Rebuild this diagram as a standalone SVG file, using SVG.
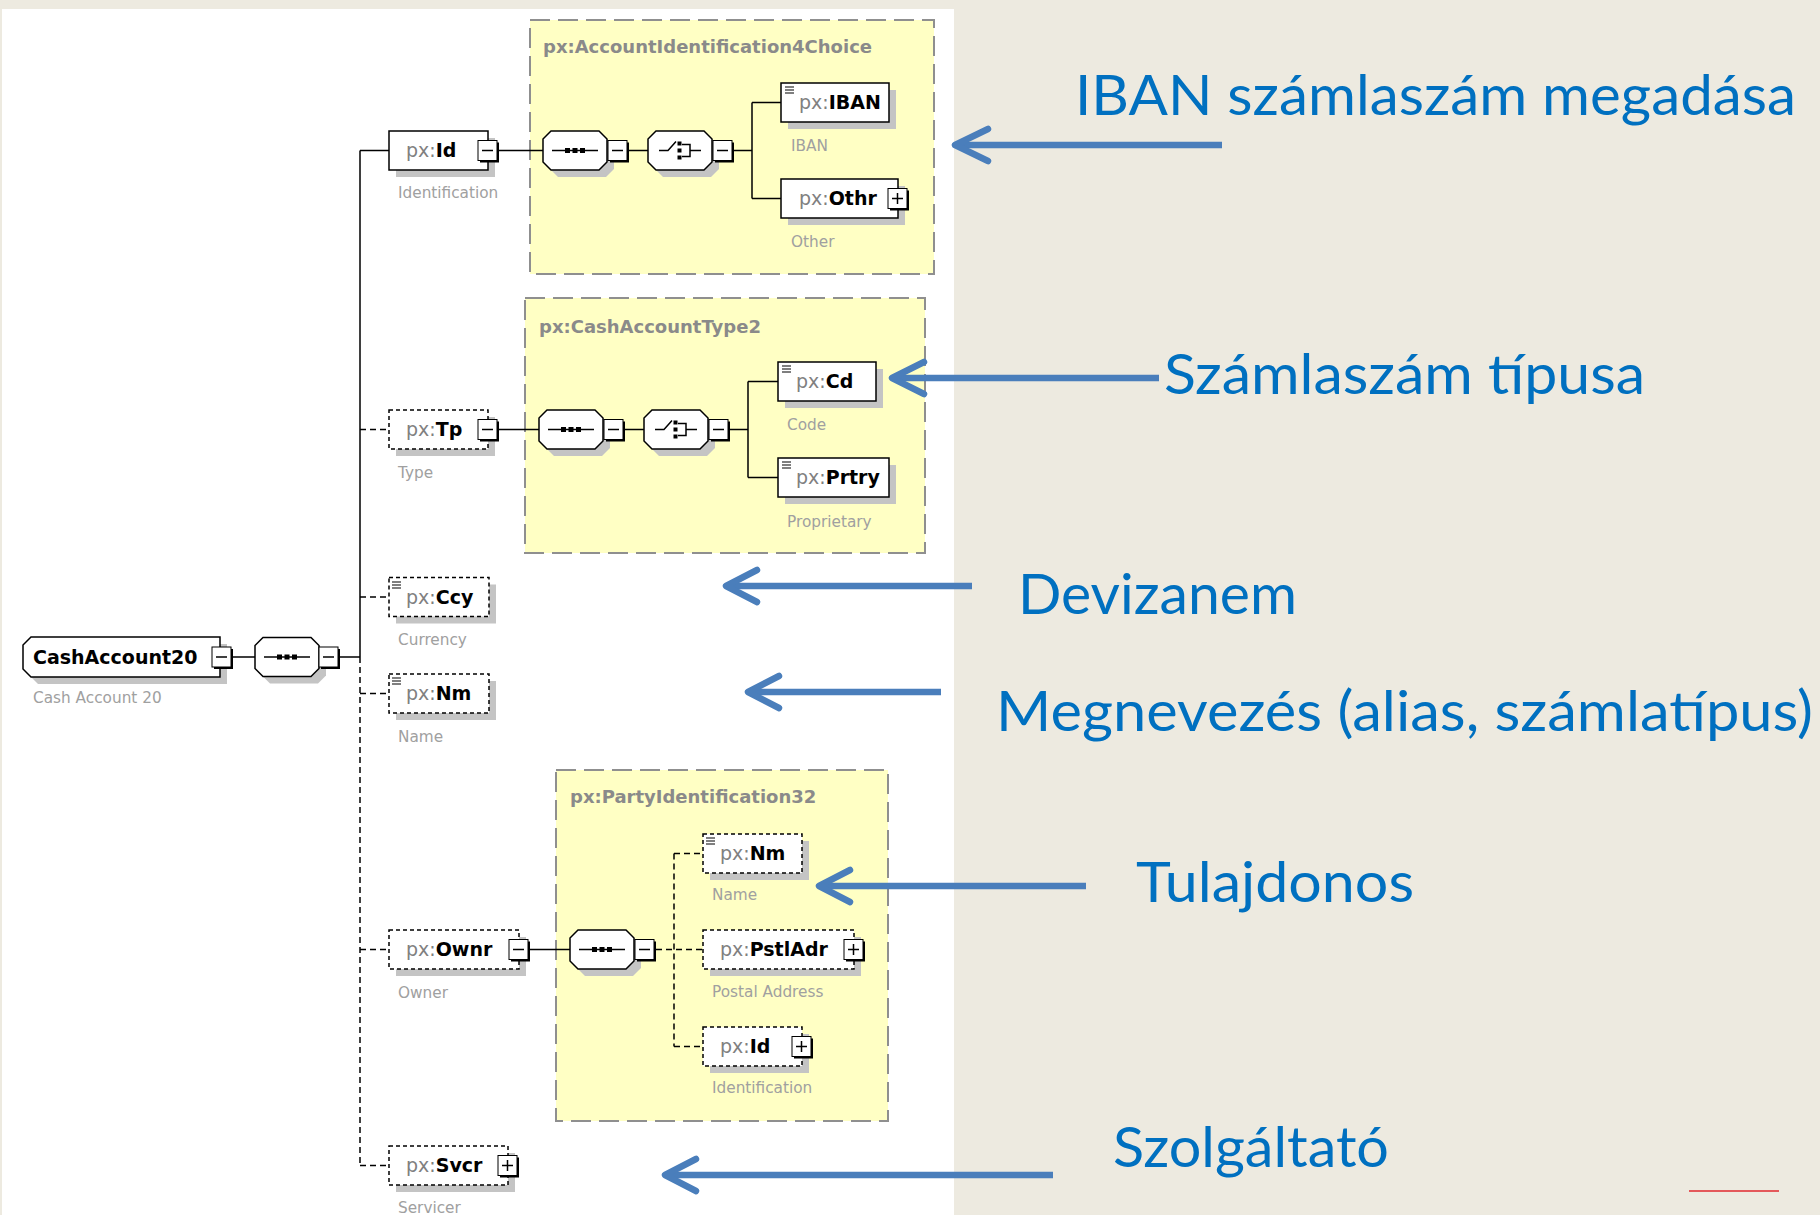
<svg xmlns="http://www.w3.org/2000/svg" xmlns:xlink="http://www.w3.org/1999/xlink" width="1820" height="1215" viewBox="0 0 1820 1215">
<defs>
<style>
.sh{fill:#C4C4C4;stroke:none}
.bx{fill:#fff;stroke:#000;stroke-width:1.5}
.ob{fill:#fff;stroke:#000;stroke-width:1.5;stroke-dasharray:4 3}
.yb{fill:#FFFFC4;stroke:#8F8F8F;stroke-width:2;stroke-dasharray:20 8}
.yt{font-family:"DejaVu Sans",sans-serif;font-weight:bold;font-size:18px;fill:#8A8A8A}
.nt{font-family:"DejaVu Sans",sans-serif;font-size:19px}
.px{fill:#808080}
.nb{font-weight:bold;fill:#000}
.lb{font-family:"DejaVu Sans",sans-serif;font-size:15.3px;fill:#A0A0A0}
.ln{fill:none;stroke:#000;stroke-width:1.5}
.dl{fill:none;stroke:#000;stroke-width:1.5;stroke-dasharray:6 4}
.ar{fill:none;stroke:#4A7EBB;stroke-width:6.5}
.ah{fill:none;stroke:#4A7EBB;stroke-width:6.5;stroke-linecap:round;stroke-linejoin:round}
.an{font-family:Lato,"Liberation Sans",sans-serif;font-size:56px;fill:#0070C0}
</style>
<path id="oct" d="M8,0H56L64,8V31L56,39H8L0,31V8Z"/>
<g id="bm"><rect x="2" y="2" width="19" height="20" fill="#000"/><rect x="0" y="0" width="19" height="20" fill="#fff" stroke="#000" stroke-width="1"/><path d="M4,10H15" stroke="#000" stroke-width="1.5"/></g>
<g id="bp"><rect x="2" y="2" width="19" height="20" fill="#000"/><rect x="0" y="0" width="19" height="20" fill="#fff" stroke="#000" stroke-width="1"/><path d="M4,10H15M9.5,4.5V15.5" stroke="#000" stroke-width="1.5"/></g>
<g id="seq"><path d="M-23,0H23" stroke="#000" stroke-width="1.5"/><rect x="-10" y="-2.5" width="5" height="5"/><rect x="-2.5" y="-2.5" width="5" height="5"/><rect x="5" y="-2.5" width="5" height="5"/></g>
<g id="cho"><path d="M-21,0H-12L-4,-9M2,-6H10V6H2M10,0H21" fill="none" stroke="#000" stroke-width="1.5"/><rect x="-2.5" y="-9" width="4" height="4"/><rect x="-2.5" y="-2" width="4" height="4"/><rect x="-2.5" y="5" width="4" height="4"/></g>
<path id="simp" d="M0,0H9M0,3H9M0,6H9" stroke="#000" stroke-width="1.2"/>
</defs>

<rect x="0" y="0" width="1820" height="1215" fill="#EDEAE0"/>
<rect x="2" y="9" width="952" height="1206" fill="#FFFFFF"/>

<!-- yellow type boxes -->
<g id="type-AccountIdentification4Choice">
<rect class="yb" x="530" y="20" width="404" height="254"/>
<text class="yt" x="543" y="53">px:AccountIdentification4Choice</text>
</g>
<g id="type-CashAccountType2">
<rect class="yb" x="525" y="298" width="400" height="255"/>
<text class="yt" x="539" y="333">px:CashAccountType2</text>
</g>
<g id="type-PartyIdentification32">
<rect class="yb" x="556" y="770" width="332" height="351"/>
<text class="yt" x="570" y="803">px:PartyIdentification32</text>
</g>

<!-- connectors -->
<g id="connectors">
<path class="ln" d="M231,657H255M340,657H360M360,150.5V657M360,150.5H389"/>
<path class="dl" d="M360,657V1165.5M360,429.5H389M360,597H389M360,693.5H389M360,949.5H389M360,1165.5H389"/>
<path class="ln" d="M497,150.5H543M629,150.5H648M734,150.5H752M752,102.5V198.5M752,102.5H781M752,198.5H781"/>
<path class="ln" d="M497,429.5H539M625,429.5H644M730,429.5H748M748,381.5V477.5M748,381.5H778M748,477.5H778"/>
<path class="ln" d="M528,949.5H570"/>
<path class="dl" d="M656,949.5H703M674,853.5V1046.5M674,853.5H703M674,1046.5H703"/>
</g>

<!-- root -->
<g id="n-CashAccount20">
<path class="sh" d="M38,644H227V684H38L30,676V652Z"/>
<path class="bx" d="M31,637H220V677H31L23,669V645Z"/>
<use xlink:href="#bm" x="212" y="647"/>
<text class="nt" x="33" y="664"><tspan class="nb">CashAccount20</tspan></text>
<text class="lb" x="33" y="703">Cash Account 20</text>
</g>
<g id="n-seq-root">
<use xlink:href="#oct" class="sh" x="262" y="644.5"/>
<use xlink:href="#oct" class="bx" x="255" y="637.5"/>
<use xlink:href="#seq" x="287" y="657"/>
<use xlink:href="#bm" x="319" y="647"/>
</g>

<!-- Id -->
<g id="n-Id">
<rect class="sh" x="396" y="138" width="99" height="39"/>
<rect class="bx" x="389" y="131" width="99" height="39"/>
<use xlink:href="#bm" x="478" y="140.5"/>
<text class="nt" x="406" y="157"><tspan class="px">px:</tspan><tspan class="nb">Id</tspan></text>
<text class="lb" x="398" y="198">Identification</text>
</g>
<g id="n-seq-Id">
<use xlink:href="#oct" class="sh" x="550" y="138"/>
<use xlink:href="#oct" class="bx" x="543" y="131"/>
<use xlink:href="#seq" x="575" y="150.5"/>
<use xlink:href="#bm" x="608" y="140.5"/>
</g>
<g id="n-choice-Id">
<use xlink:href="#oct" class="sh" x="655" y="138"/>
<use xlink:href="#oct" class="bx" x="648" y="131"/>
<use xlink:href="#cho" x="680" y="150.5"/>
<use xlink:href="#bm" x="713" y="140.5"/>
</g>
<g id="n-IBAN">
<rect class="sh" x="788" y="90" width="108" height="39"/>
<rect class="bx" x="781" y="83" width="108" height="39"/>
<use xlink:href="#simp" x="785" y="87"/>
<text class="nt" x="799" y="109"><tspan class="px">px:</tspan><tspan class="nb">IBAN</tspan></text>
<text class="lb" x="791" y="151">IBAN</text>
</g>
<g id="n-Othr">
<rect class="sh" x="788" y="186" width="117" height="39"/>
<rect class="bx" x="781" y="179" width="117" height="39"/>
<use xlink:href="#bp" x="888" y="188.5"/>
<text class="nt" x="799" y="205"><tspan class="px">px:</tspan><tspan class="nb">Othr</tspan></text>
<text class="lb" x="791" y="247">Other</text>
</g>

<!-- Tp -->
<g id="n-Tp">
<rect class="sh" x="396" y="417" width="99" height="39"/>
<rect class="ob" x="389" y="410" width="99" height="39"/>
<use xlink:href="#bm" x="478" y="419.5"/>
<text class="nt" x="406" y="436"><tspan class="px">px:</tspan><tspan class="nb">Tp</tspan></text>
<text class="lb" x="398" y="478">Type</text>
</g>
<g id="n-seq-Tp">
<use xlink:href="#oct" class="sh" x="546" y="417"/>
<use xlink:href="#oct" class="bx" x="539" y="410"/>
<use xlink:href="#seq" x="571" y="429.5"/>
<use xlink:href="#bm" x="604" y="419.5"/>
</g>
<g id="n-choice-Tp">
<use xlink:href="#oct" class="sh" x="651" y="417"/>
<use xlink:href="#oct" class="bx" x="644" y="410"/>
<use xlink:href="#cho" x="676" y="429.5"/>
<use xlink:href="#bm" x="709" y="419.5"/>
</g>
<g id="n-Cd">
<rect class="sh" x="785" y="369" width="98" height="39"/>
<rect class="bx" x="778" y="362" width="98" height="39"/>
<use xlink:href="#simp" x="782" y="366"/>
<text class="nt" x="796" y="388"><tspan class="px">px:</tspan><tspan class="nb">Cd</tspan></text>
<text class="lb" x="787" y="430">Code</text>
</g>
<g id="n-Prtry">
<rect class="sh" x="785" y="465" width="111" height="39"/>
<rect class="bx" x="778" y="458" width="111" height="39"/>
<use xlink:href="#simp" x="782" y="462"/>
<text class="nt" x="796" y="484"><tspan class="px">px:</tspan><tspan class="nb">Prtry</tspan></text>
<text class="lb" x="787" y="527">Proprietary</text>
</g>

<!-- Ccy, Nm -->
<g id="n-Ccy">
<rect class="sh" x="396" y="584.5" width="100" height="39"/>
<rect class="ob" x="389" y="577.5" width="100" height="39"/>
<use xlink:href="#simp" x="392" y="582"/>
<text class="nt" x="406" y="603.5"><tspan class="px">px:</tspan><tspan class="nb">Ccy</tspan></text>
<text class="lb" x="398" y="645">Currency</text>
</g>
<g id="n-Nm">
<rect class="sh" x="396" y="681" width="100" height="39"/>
<rect class="ob" x="389" y="674" width="100" height="39"/>
<use xlink:href="#simp" x="392" y="678"/>
<text class="nt" x="406" y="700"><tspan class="px">px:</tspan><tspan class="nb">Nm</tspan></text>
<text class="lb" x="398" y="742">Name</text>
</g>

<!-- Ownr -->
<g id="n-Ownr">
<rect class="sh" x="396" y="937" width="130" height="39"/>
<rect class="ob" x="389" y="930" width="130" height="39"/>
<use xlink:href="#bm" x="509" y="939.5"/>
<text class="nt" x="406" y="956"><tspan class="px">px:</tspan><tspan class="nb">Ownr</tspan></text>
<text class="lb" x="398" y="998">Owner</text>
</g>
<g id="n-seq-Ownr">
<use xlink:href="#oct" class="sh" x="577" y="937"/>
<use xlink:href="#oct" class="bx" x="570" y="930"/>
<use xlink:href="#seq" x="602" y="949.5"/>
<use xlink:href="#bm" x="635" y="939.5"/>
</g>
<g id="n-Ownr-Nm">
<rect class="sh" x="710" y="841" width="99" height="39"/>
<rect class="ob" x="703" y="834" width="99" height="39"/>
<use xlink:href="#simp" x="706" y="838"/>
<text class="nt" x="720" y="860"><tspan class="px">px:</tspan><tspan class="nb">Nm</tspan></text>
<text class="lb" x="712" y="900">Name</text>
</g>
<g id="n-PstlAdr">
<rect class="sh" x="710" y="937" width="151" height="39"/>
<rect class="ob" x="703" y="930" width="151" height="39"/>
<use xlink:href="#bp" x="844" y="939.5"/>
<text class="nt" x="720" y="956"><tspan class="px">px:</tspan><tspan class="nb">PstlAdr</tspan></text>
<text class="lb" x="712" y="997">Postal Address</text>
</g>
<g id="n-Ownr-Id">
<rect class="sh" x="710" y="1034" width="99" height="39"/>
<rect class="ob" x="703" y="1027" width="99" height="39"/>
<use xlink:href="#bp" x="792" y="1036.5"/>
<text class="nt" x="720" y="1053"><tspan class="px">px:</tspan><tspan class="nb">Id</tspan></text>
<text class="lb" x="712" y="1093">Identification</text>
</g>

<!-- Svcr -->
<g id="n-Svcr">
<rect class="sh" x="396" y="1153" width="119" height="39"/>
<rect class="ob" x="389" y="1146" width="119" height="39"/>
<use xlink:href="#bp" x="498" y="1155.5"/>
<text class="nt" x="406" y="1172"><tspan class="px">px:</tspan><tspan class="nb">Svcr</tspan></text>
<text class="lb" x="398" y="1213">Servicer</text>
</g>

<!-- annotation arrows -->
<g id="annotation-arrows">
<path class="ar" d="M1222,145H958M1159,378H895M972,586H729M941,692H750M1086,886H821M1053,1175H667"/>
<path class="ah" d="M988,129L955,145L988,161M924,362L892,378L924,394M757,570L726,586L757,602M779,676L748,692L779,708M850,870L819,886L850,902M696,1159L665,1175L696,1191"/>
</g>

<!-- annotation texts -->
<g id="annotations">
<text class="an" x="1075" y="115" textLength="721" lengthAdjust="spacingAndGlyphs">IBAN számlaszám megadása</text>
<text class="an" x="1164" y="394" textLength="481" lengthAdjust="spacingAndGlyphs">Számlaszám típusa</text>
<text class="an" x="1018" y="614" textLength="279" lengthAdjust="spacingAndGlyphs">Devizanem</text>
<text class="an" x="996" y="731" textLength="817" lengthAdjust="spacingAndGlyphs">Megnevezés (alias, számlatípus)</text>
<text class="an" x="1136" y="902" textLength="278" lengthAdjust="spacingAndGlyphs">Tulajdonos</text>
<text class="an" x="1113" y="1167" textLength="276" lengthAdjust="spacingAndGlyphs">Szolgáltató</text>
</g>
<path d="M1689,1191H1779" stroke="#E0282F" stroke-width="1.5"/>
</svg>
